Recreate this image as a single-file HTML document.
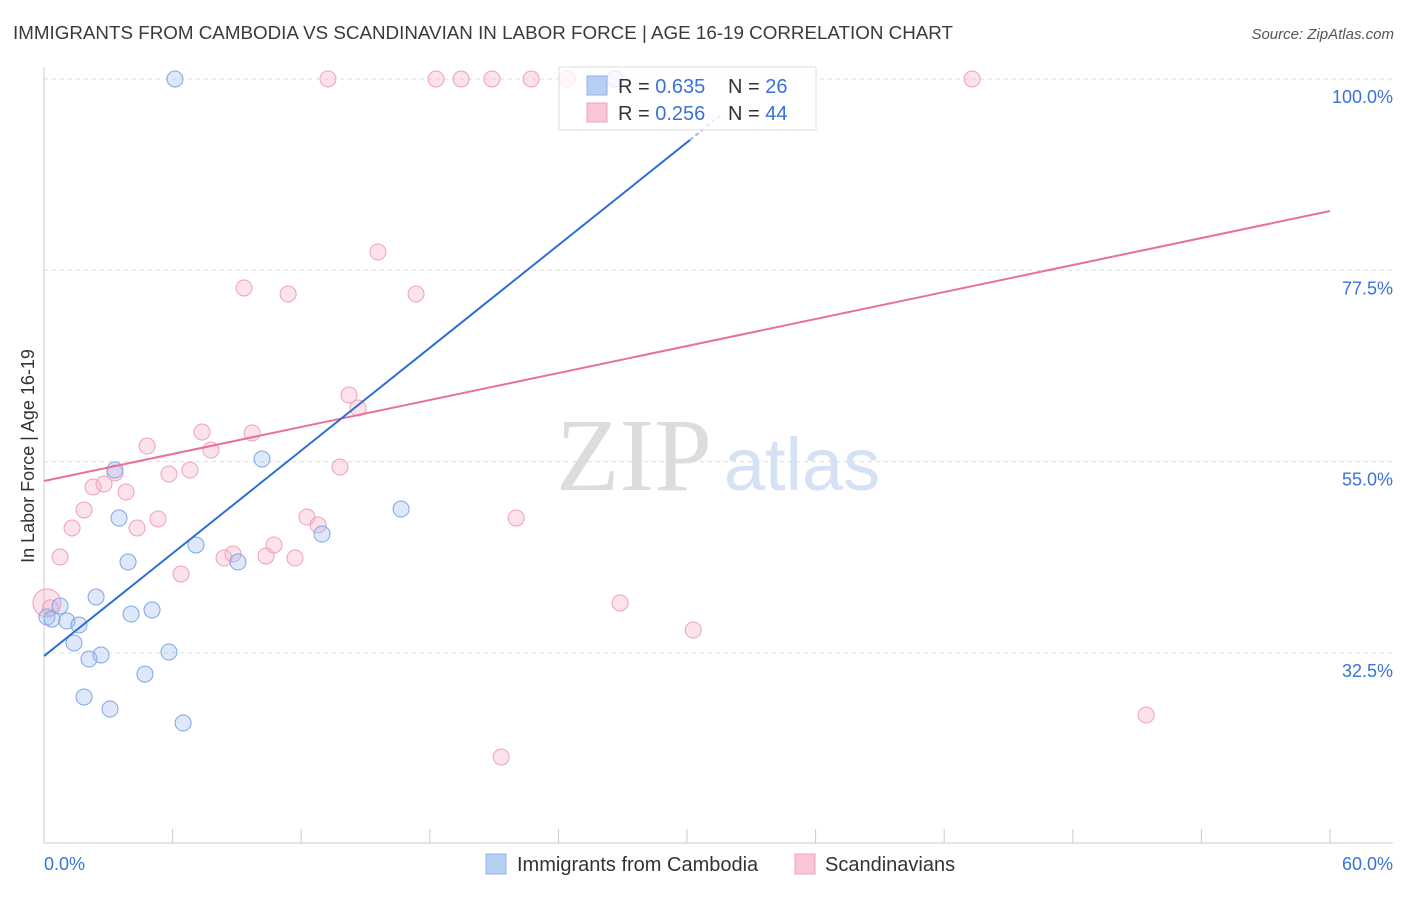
<!DOCTYPE html>
<html><head><meta charset="utf-8">
<style>
html,body{margin:0;padding:0;background:#fff;}
body{width:1406px;height:892px;overflow:hidden;font-family:"Liberation Sans",sans-serif;}
</style></head>
<body>
<svg id="chart" width="1406" height="892" xmlns="http://www.w3.org/2000/svg" font-family="Liberation Sans, sans-serif">
<text x="13" y="39" font-size="18" fill="#3a3a3a" textLength="940" lengthAdjust="spacingAndGlyphs">IMMIGRANTS FROM CAMBODIA VS SCANDINAVIAN IN LABOR FORCE | AGE 16-19 CORRELATION CHART</text>
<text x="1394" y="39" font-size="15" fill="#555" font-style="italic" text-anchor="end">Source: ZipAtlas.com</text>
<g>
<text x="634" y="490" font-size="104" fill="#dcdcdc" font-family="Liberation Serif, serif" text-anchor="middle">ZIP</text>
<text x="802" y="490" font-size="74" fill="#d4e2f4" text-anchor="middle">atlas</text>
</g>
<g id="grid"></g>
<g id="axes"></g>
<g id="marks"></g>
<g>
<rect x="559" y="67" width="257" height="63" fill="rgba(255,255,255,0.75)" stroke="#ddd"/>
<rect x="587" y="76" width="20" height="19" fill="#b7cff3" stroke="#8fb2e8"/>
<rect x="587" y="103" width="20" height="19" fill="#f9c6d5" stroke="#f0a0b8"/>
<text x="618" y="93" font-size="20" fill="#333">R = <tspan fill="#3a72d8">0.635</tspan></text>
<text x="728" y="93" font-size="20" fill="#333">N = <tspan fill="#3a72d8">26</tspan></text>
<text x="618" y="120" font-size="20" fill="#333">R = <tspan fill="#3a72d8">0.256</tspan></text>
<text x="728" y="120" font-size="20" fill="#333">N = <tspan fill="#3a72d8">44</tspan></text>
</g>
<text transform="translate(34,456) rotate(-90)" font-size="18" fill="#333" text-anchor="middle">In Labor Force | Age 16-19</text>
<g>
<rect x="486" y="854" width="20" height="20" fill="#b7cff3" stroke="#8fb2e8"/>
<text x="517" y="871" font-size="20" fill="#333">Immigrants from Cambodia</text>
<rect x="795" y="854" width="20" height="20" fill="#f9c6d5" stroke="#f0a0b8"/>
<text x="825" y="871" font-size="20" fill="#333">Scandinavians</text>
</g>
</svg>
<script>
const blueX=[6.11,0.14,0.37,0.75,1.07,1.63,1.40,2.43,2.10,2.66,1.87,3.08,3.92,3.50,4.06,5.04,4.71,5.83,6.49,7.09,9.05,10.17,12.97,16.66,3.31,26.64];
const blueY=[100,36.72,36.48,38.01,36.25,35.78,33.66,39.07,31.78,32.25,27.31,25.90,43.19,48.36,37.07,37.54,30.01,32.60,24.25,45.19,43.19,55.30,46.48,49.42,54.01,100];
const pinkX=[0.14,0.75,1.31,1.87,2.29,2.80,3.31,3.83,4.34,4.81,5.32,5.83,6.39,6.81,7.37,7.79,8.40,8.82,9.33,9.71,10.36,10.73,11.39,11.71,12.27,12.79,13.25,13.81,14.23,14.65,15.58,17.36,18.29,19.46,20.90,22.03,22.73,24.41,26.88,30.29,43.30,51.42,21.33,0.3];
const pinkY=[38.37,43.78,47.19,49.31,52.01,52.36,53.66,51.42,47.19,56.83,48.25,53.54,41.78,54.01,58.48,56.36,43.66,44.13,75.42,58.36,43.90,45.19,74.71,43.66,48.48,47.54,100,54.36,62.83,61.30,79.65,74.71,100,100,100,48.36,100,100,38.37,35.19,100,25.19,20.25,37.8];
const blueLine=[[0,32.13],[30.14,92.83]];
const blueDash=[[30.14,92.83],[31.6,95.8]];
const pinkLine=[[0,52.72],[60,84.47]];
const yTicks=[100,77.5,55,32.5];
const yTickLabels=["100.0%","77.5%","55.0%","32.5%"];
const xTicks=[0,6,12,18,24,30,36,42,48,54,60];
const xEdgeLabels=["0.0%","60.0%"];

const NS="http://www.w3.org/2000/svg";
const X=v=>44+v/60*1286;
const Y=v=>79+(100-v)/22.5*191.3;
function mk(tag,attrs,parent){const e=document.createElementNS(NS,tag);for(const k in attrs)e.setAttribute(k,attrs[k]);document.getElementById(parent).appendChild(e);return e;}

yTicks.forEach((t,i)=>{
  const l=mk('line',{x1:44,x2:1393,y1:Y(t),y2:Y(t),stroke:'#ddd','stroke-dasharray':'4,4'},'grid');
  
  
  const tx=mk('text',{x:1393,y:Y(t)+24,'font-size':18,fill:'#3a72d8','text-anchor':'end'},'axes');
  tx.textContent=yTickLabels[i];
  
  
});
let a=mk('line',{x1:44,x2:44,y1:67,y2:843,stroke:'#ccc'},'axes');


a=mk('line',{x1:44,x2:1393,y1:843,y2:843,stroke:'#ccc'},'axes');


xTicks.forEach(t=>{
  const l=mk('line',{x1:X(t),x2:X(t),y1:829,y2:843,stroke:'#ccc'},'axes');
  
  
});
let t0=mk('text',{x:44,y:870,'font-size':18,fill:'#3a72d8'},'axes');t0.textContent=xEdgeLabels[0];


let t1=mk('text',{x:1393,y:870,'font-size':18,fill:'#3a72d8','text-anchor':'end'},'axes');t1.textContent=xEdgeLabels[1];



pinkX.forEach((v,i)=>{
  const c=mk('circle',{cx:X(v),cy:Y(pinkY[i]),r:i===0?14:8,fill:'rgba(245,175,198,0.35)',stroke:'#f0a0b8','stroke-width':1},'marks');
  
  
});
blueX.forEach((v,i)=>{
  const c=mk('circle',{cx:X(v),cy:Y(blueY[i]),r:8,fill:'rgba(160,190,240,0.35)',stroke:'#7fa6e3','stroke-width':1},'marks');
  
  
});
let rl=mk('line',{x1:X(pinkLine[0][0]),y1:Y(pinkLine[0][1]),x2:X(pinkLine[1][0]),y2:Y(pinkLine[1][1]),stroke:'#e8709a','stroke-width':2},'marks');


rl=mk('line',{x1:X(blueLine[0][0]),y1:Y(blueLine[0][1]),x2:X(blueLine[1][0]),y2:Y(blueLine[1][1]),stroke:'#2a6fd6','stroke-width':2},'marks');


rl=mk('line',{x1:X(blueDash[0][0]),y1:Y(blueDash[0][1]),x2:X(blueDash[1][0]),y2:Y(blueDash[1][1]),stroke:'#9bbbe8','stroke-width':2,'stroke-dasharray':'4,3'},'marks');


</script>
</body></html>
